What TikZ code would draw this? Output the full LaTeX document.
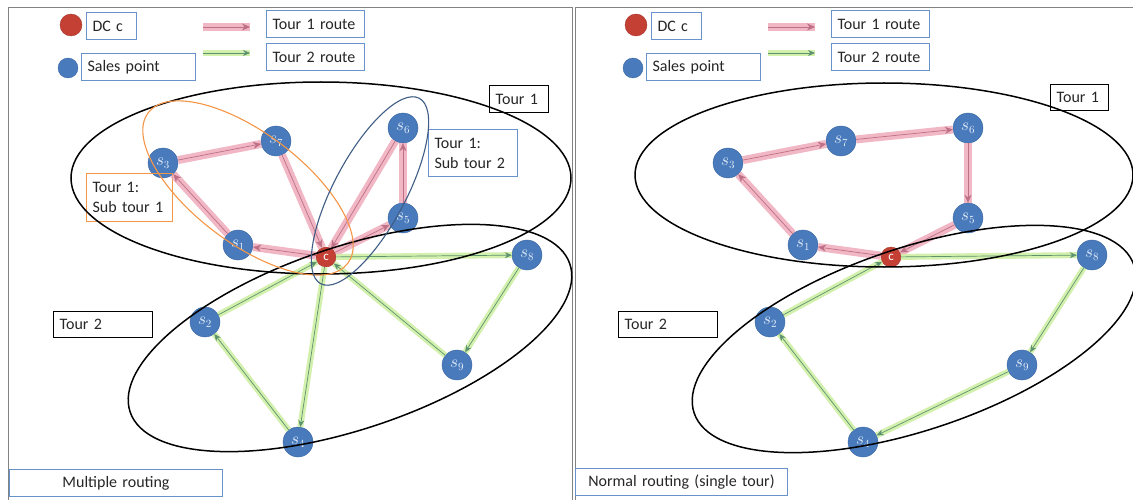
\documentclass[tikz,border=0pt]{standalone}
\usepackage{fontspec}
\setmainfont{Carlito}
\usetikzlibrary{arrows.meta}

\definecolor{ptblue}{RGB}{72,122,188}
\definecolor{ptlabel}{RGB}{232,240,250}
\definecolor{dcred}{RGB}{196,64,52}
\definecolor{boxblue}{RGB}{104,146,204}
\definecolor{suborange}{RGB}{244,150,72}
\definecolor{subslate}{RGB}{62,92,132}
\definecolor{pinkglow}{RGB}{238,170,186}
\definecolor{pinkline}{RGB}{190,112,134}
\definecolor{greenglow}{RGB}{206,238,164}
\definecolor{greenline}{RGB}{92,146,112}
\definecolor{framegray}{RGB}{130,130,130}

\tikzset{
  salespt/.style={circle, fill=ptblue, draw=ptblue!85!black, minimum size=30pt,
    inner sep=0pt, text=ptlabel, font=\fontsize{16}{16}\selectfont},
  depot/.style={circle, fill=dcred, draw=dcred!85!black, minimum size=20pt,
    inner sep=0pt, text=white, font=\fontsize{13}{13}\selectfont},
  labelbox/.style={minimum height=27pt, inner xsep=6pt, inner ysep=0pt,
    align=left, anchor=north west, text=black!85},
  keybox/.style={labelbox, draw=boxblue, line width=1pt},
  tourbox/.style={labelbox, draw=black, line width=1.4pt},
  subbox/.style={labelbox, draw=suborange, line width=1.2pt},
  routeA/.style={draw=pinkline, line width=0.7pt, -{Stealth[length=8pt,width=7pt]},
    preaction={draw=pinkglow, line width=8pt, -, opacity=0.85}},
  routeB/.style={draw=greenline, line width=0.7pt, -{Stealth[length=7pt,width=6pt]},
    preaction={draw=greenglow, line width=6pt, -, opacity=0.9}},
  ring/.style={draw=black, line width=1.5pt},
  subring/.style={line width=1.1pt}
}

\begin{document}
\begin{tikzpicture}[x=1pt, y=-1pt, font=\fontsize{16}{20}\selectfont]

  \useasboundingbox (0,0) rectangle (1133,500);

  % panel frames
  \draw[framegray, line width=1pt] (8,500) -- (8,8) -- (572,8) -- (572,500);
  \draw[framegray, line width=1pt] (575,500) -- (575,8) -- (1133,8);

  % what both panels share: key, points, Tour 2 label
  \foreach \p/\sh in {L/0,R/565}{
    \begin{scope}[xshift=\sh pt]
      \node[depot, minimum size=22pt] (\p kdc) at (71,25) {};
      \node[salespt, minimum size=20pt] (\p ksp) at (68,68) {};
      \node[keybox, text width=38pt] (\p kdctxt) at (86,12) {DC c};
      \node[keybox, text width=102pt] (\p ksptxt) at (81,53) {Sales point};
      \node[keybox, text width=86pt] (\p kAtxt) at (266,10) {Tour 1 route};
      \node[keybox, text width=86pt] (\p kBtxt) at (266,43) {Tour 2 route};
      \coordinate (\p kA1) at (203,27);
      \coordinate (\p kA2) at (250,27);
      \coordinate (\p kB1) at (203,53);
      \coordinate (\p kB2) at (250,53);
      \draw[routeA] (\p kA1) -- (\p kA2);
      \draw[routeB] (\p kB1) -- (\p kB2);

      \node[tourbox, text width=87pt, minimum height=26pt] (\p tourB) at (53,311) {Tour 2};

      \foreach \n/\x/\y in {1/238/245, 2/205/322, 3/163/163, 4/298/442, 5/403/218,
                            6/403/128, 7/276/141, 8/527/255, 9/457/365}
        \node[salespt] (\p s\n) at (\x,\y) {$s_{\n}$};
      \node[depot] (\p c) at (326,257) {c};
    \end{scope}
  }

  % left: multiple routing
  \node[tourbox, text width=47pt] (LtourA) at (489,85) {Tour 1};
  \node[subbox, text width=74pt, minimum height=48pt] (Lsub1) at (86,173) {Tour 1:\\Sub tour 1};
  \node[keybox, text width=77pt, minimum height=47pt] (Lsub2) at (428,129) {Tour 1:\\Sub tour 2};
  \node[keybox, text width=201pt, align=center] (Lname) at (9,469) {Multiple routing};

  \draw[routeA] (Lc) -- (Ls1);
  \draw[routeA] (Ls1) -- (Ls3);
  \draw[routeA] (Ls3) -- (Ls7);
  \draw[routeA] (Ls7) -- (Lc);
  \draw[routeA] (Lc) -- (Ls5);
  \draw[routeA] (Ls5) -- (Ls6);
  \draw[routeA] (Ls6) -- (Lc);

  \draw[routeB] (Lc) -- (Ls4);
  \draw[routeB] (Ls4) -- (Ls2);
  \draw[routeB] (Ls2) -- (Lc);
  \draw[routeB] (Lc) -- (Ls8);
  \draw[routeB] (Ls8) -- (Ls9);
  \draw[routeB] (Ls9) -- (Lc);

  \draw[ring] (321,178) ellipse [x radius=250, y radius=96];
  \draw[ring, rotate around={18.6:(350,338)}] (350,338) ellipse [x radius=232, y radius=91];
  \draw[subring, suborange, rotate around={-37:(248,188)}] (248,188) ellipse [x radius=125, y radius=55];
  \draw[subring, subslate, rotate around={62:(370,191)}] (370,191) ellipse [x radius=105, y radius=36];

  % right: normal routing
  \node[tourbox, text width=46pt, minimum height=26pt] (RtourA) at (1050,84) {Tour 1};
  \node[keybox, text width=200pt, align=center] (Rname) at (575,468) {Normal routing (single tour)};

  \draw[routeA] (Rc) -- (Rs1);
  \draw[routeA] (Rs1) -- (Rs3);
  \draw[routeA] (Rs3) -- (Rs7);
  \draw[routeA] (Rs7) -- (Rs6);
  \draw[routeA] (Rs6) -- (Rs5);
  \draw[routeA] (Rs5) -- (Rc);

  \draw[routeB] (Rc) -- (Rs8);
  \draw[routeB] (Rs8) -- (Rs9);
  \draw[routeB] (Rs9) -- (Rs4);
  \draw[routeB] (Rs4) -- (Rs2);
  \draw[routeB] (Rs2) -- (Rc);

  \draw[ring] (884,175) ellipse [x radius=249, y radius=92];
  \draw[ring, rotate around={18.6:(914,339)}] (914,339) ellipse [x radius=232, y radius=91];

\end{tikzpicture}
\end{document}
